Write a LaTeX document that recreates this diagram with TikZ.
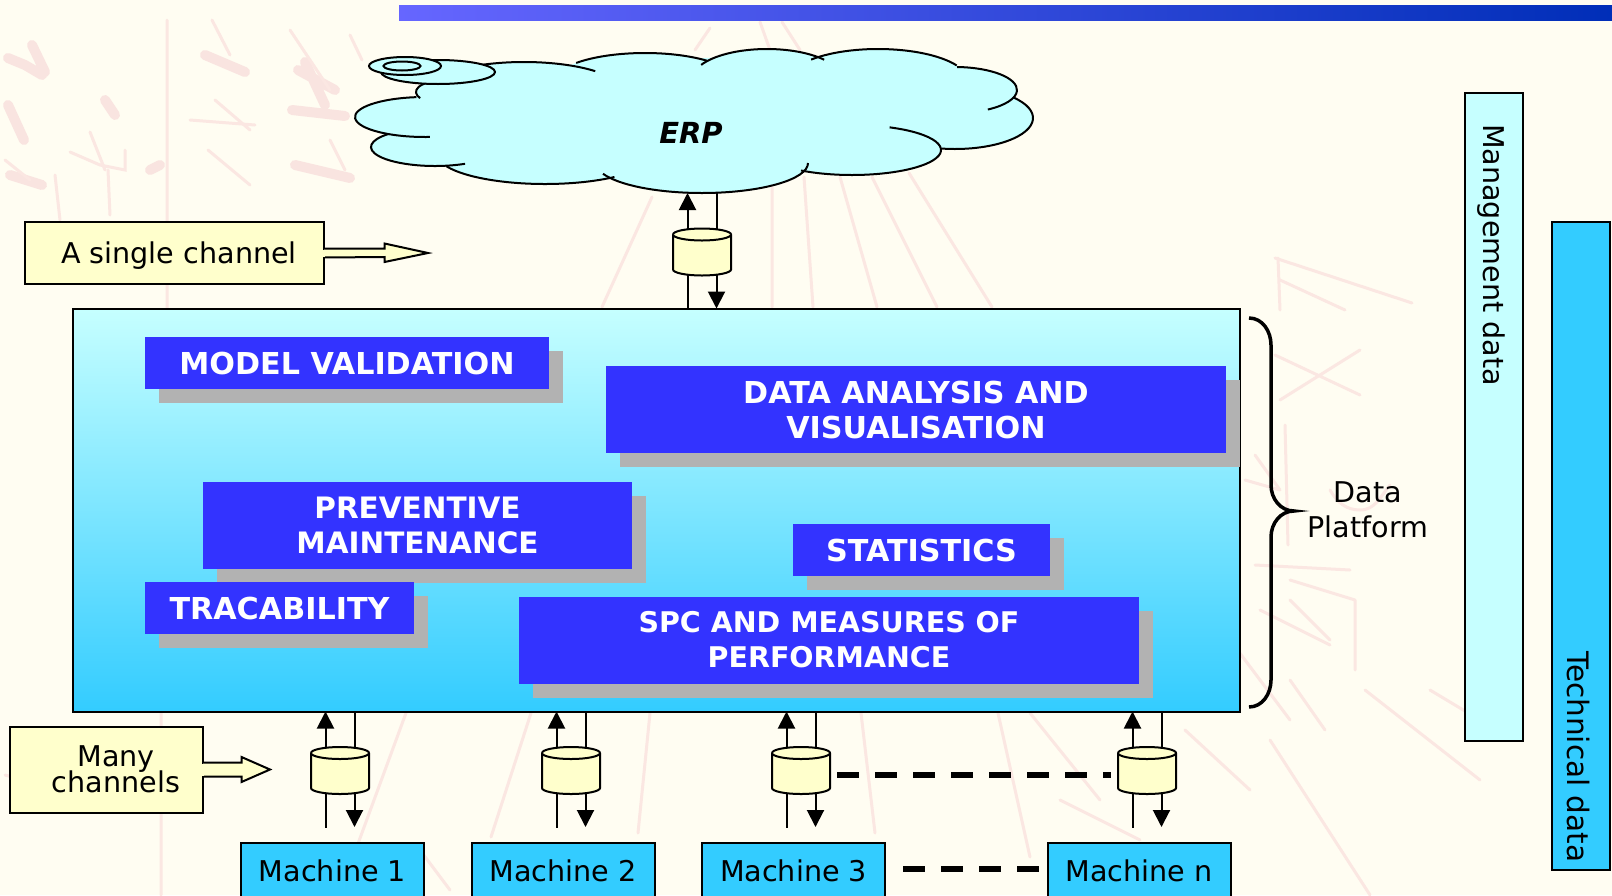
\documentclass[tikz,border=0pt]{standalone}
\usepackage{fontspec}
\setmainfont{DejaVu Sans}
\usetikzlibrary{arrows.meta,shadows}
\definecolor{paper}{HTML}{FFFDF2}
\definecolor{sketchink}{HTML}{FBE7E2}
\definecolor{sketchblot}{HTML}{F9E4E0}
\definecolor{paleblue}{HTML}{C6FFFF}
\definecolor{skyblue}{HTML}{33CCFF}
\definecolor{royal}{HTML}{3333FF}
\definecolor{cream}{HTML}{FFFFCC}
\definecolor{shadowgray}{HTML}{B2B2B2}
\newcommand{\lobelist}{
	524/92/99/30/115/44,
	645/83/92.6/30/138/48,
	767/79/74.6/30/152/40,
	878/81/90/32/138/29,
	955/90/62/23/88/-58,
	955/118/78/31/42/-100,
	852/150/89/25/65/-125,
	702/163/106/30/0/-159,
	545/154/108/30/-50/-156,
	435/147/64/19/-62/-223,
	425/117/70/20/-86/-263,
	440/92/24/11/-146/-240
}
\newcommand{\channelcan}[1]{
	\draw[canline] ([yshift=-6pt]#1.north west) -- ([yshift=6pt]#1.south west)
		arc[x radius=29pt, y radius=6pt, start angle=180, end angle=360]
		-- ([yshift=-6pt]#1.north east) arc[x radius=29pt, y radius=6pt, start angle=0, end angle=180];
	\draw[canline] ([yshift=-6pt]#1.north west) arc[x radius=29pt, y radius=6pt, start angle=180, end angle=360];
}
\tikzset{
	every node/.style={font=\fontsize{28.6}{35}\selectfont, inner sep=0pt, outer sep=0pt},
	sketch/.style={draw=sketchink, line width=3pt, line cap=round},
	blot/.style={draw=sketchblot, line width=10pt, line cap=round, line join=round},
	taskfont/.style={font=\fontsize{#1}{35}\selectfont\bfseries},
	taskbox/.style={fill=royal, text=white, align=center, taskfont=30.2,
		general shadow={shadow xshift=14pt, shadow yshift=-14pt, fill=shadowgray}},
	calloutbox/.style={draw=black, fill=cream, line width=2pt},
	flowline/.style={line width=2pt},
	flowarrow/.style={flowline, -{Triangle[length=17pt,width=17pt]}},
	canbody/.style={minimum width=58pt, minimum height=47pt},
	canline/.style={draw=black, fill=cream, line width=2pt},
	machinebox/.style={draw=black, fill=skyblue, line width=2pt, minimum width=183pt, minimum height=56pt},
	databar/.style={draw=black, line width=2pt, minimum width=58pt},
	gap/.style={line width=5.3pt, dash pattern=on 22pt off 16pt}
}
\begin{document}
\begin{tikzpicture}[x=1pt, y=-1pt]
	\path[use as bounding box, clip] (0,0) rectangle (1612,895);
	\fill[paper] (0,0) rectangle (1612,895);
	%sketch behind the diagram
	\draw[blot] (8,58) -- (25,65) -- (42,75) (32,45) -- (45,72) (8,105) -- (24,140)
		(105,100) -- (115,115) (205,55) -- (245,72) (298,70) -- (335,90) (292,110) -- (345,116) (295,165) -- (350,178)
		(10,175) -- (42,185) (150,170) -- (160,165) (305,62) -- (325,105);
	\draw[sketch] (70,152) -- (100,165) -- (125,170) -- (125,150) (90,132) -- (105,170) (108,170) -- (110,215)
		(55,175) -- (60,220) (212,20) -- (230,55) (190,120) -- (255,125) (215,100) -- (250,130) (208,150) -- (250,185)
		(290,30) -- (330,90) (350,35) -- (362,60) (330,140) -- (345,170) (5,160) -- (30,180);
	\draw[sketch] (167,20) -- (167,310) (161,713) -- (161,895)
		(652,197) -- (602,307) (772,187) -- (772,307) (804,177) -- (813,307) (840,177) -- (877,307)
		(872,177) -- (937,307) (909,173) -- (992,307) (710,28) -- (695,50) (760,22) -- (770,50) (782,22) -- (800,50)
		(406,713) -- (352,860) (531,713) -- (491,837) (650,713) -- (638,833) (861,713) -- (875,833)
		(998,713) -- (1030,857) (1030,713) -- (1100,800) (1185,730) -- (1250,790) (1060,800) -- (1140,840)
		(1275,258) -- (1412,303) (1278,258) -- (1280,310) (1280,280) -- (1345,310) (1275,355) -- (1360,395)
		(1280,400) -- (1360,350) (1285,425) -- (1288,545) (1255,455) -- (1280,490) (1245,480) -- (1280,490)
		(1255,565) -- (1350,570) (1290,580) -- (1355,600) (1355,600) -- (1355,670) (1290,600) -- (1330,640)
		(1260,610) -- (1330,645) (1230,640) -- (1290,720) (1290,680) -- (1325,730) (1270,740) -- (1370,895)
		(1365,690) -- (1480,780) (1430,690) -- (1480,720) (420,850) -- (450,890) (5,775) -- (60,790);
	\draw[sketch] (1330,490) to[out=-60,in=180] (1360,510) to[out=0,in=-130] (1390,485);
	%top bar
	\shade[left color=blue!60!white, middle color=blue!70!white!90!black, right color=blue!80!green!90!black] (399,5) rectangle (1612,20);
	%cloud
	\fill[paleblue] (425,100) -- (524,70) -- (643,60) -- (767,56) -- (880,56) -- (957,72) -- (1008,104) -- (940,145)
		-- (702,186) -- (445,160) -- (392,130) -- cycle;
	\foreach \cx/\cy/\rx/\ry/\sa/\ea in \lobelist
		\fill[paleblue] (\cx,\cy) ellipse[x radius=\rx, y radius=\ry];
	\foreach \cx/\cy/\rx/\ry/\sa/\ea in \lobelist
		\draw[line width=2pt] ({\cx+\rx*cos(\sa)},{\cy-\ry*sin(\sa)}) arc[x radius=\rx pt, y radius=\ry pt, start angle=\sa, end angle=\ea];
	\draw[fill=paleblue, line width=2pt] (438,72) ellipse (57 and 12);
	\draw[fill=paleblue, line width=2pt] (405,66) ellipse (36 and 9);
	\draw[line width=2pt] (402,66) ellipse (18.5 and 4.5);
	\node[font=\fontsize{29}{35}\selectfont\bfseries\itshape] (erp) at (691,133) {ERP};
	\coordinate (cloudbase) at (702,193);
	%platform
	\node[draw=black, line width=2pt, top color=paleblue, bottom color=skyblue, minimum width=1167pt, minimum height=403pt] (platform) at (656.5,510) {};
	\node[taskbox, minimum width=404pt, minimum height=52pt] (validation) at (347,363) {MODEL VALIDATION};
	\node[taskbox, minimum width=620pt, minimum height=87pt] (analysis) at (916,409.5) {DATA ANALYSIS AND\\VISUALISATION};
	\node[taskbox, taskfont=29.5, minimum width=429pt, minimum height=87pt] (maintenance) at (417.5,525) {PREVENTIVE\\MAINTENANCE};
	\node[taskbox, minimum width=269pt, minimum height=52pt] (tracability) at (279.5,608) {TRACABILITY};
	\node[taskbox, minimum width=257pt, minimum height=52pt] (statistics) at (921.5,550) {STATISTICS};
	\node[taskbox, taskfont=28.5, minimum width=620pt, minimum height=87pt] (spc) at (829,640) {SPC AND MEASURES OF\\PERFORMANCE};
	%callouts
	\node[calloutbox, minimum width=299pt, minimum height=62pt] (single) at (174.5,253) {};
	\draw[calloutbox] ([yshift=4.5pt]single.east) -- ++(60.5,0) -- ++(0,-5) -- (428,253) -- (384.5,262) -- ++(0,-5) -- ([yshift=-4.5pt]single.east);
	\draw[cream, line width=2.4pt] ([yshift=3.5pt]single.east) -- ([yshift=-3.5pt]single.east);
	\node (singletext) at (179,256) {A single channel};
	\node[calloutbox, minimum width=193pt, minimum height=86pt] (many) at (106.5,769.5) {};
	\draw[calloutbox] ([yshift=7pt]many.east) -- ++(38.5,0) -- ++(0,-5.5) -- (270,769.5) -- (241.5,782) -- ++(0,-5.5) -- ([yshift=-7pt]many.east);
	\draw[cream, line width=2.4pt] ([yshift=6pt]many.east) -- ([yshift=-6pt]many.east);
	\node[align=center] (manytext) at (116,769) {Many\\[-9pt]channels};
	%channels
	\node[canbody] (can0) at (702,252) {};
	\foreach \n/\x in {1/340,2/571,3/801,n/1147}
		\node[canbody] (can\n) at (\x,770.5) {};
	\draw[flowarrow] ([xshift=-14.5pt,yshift=-1pt]can0.north) -- ([xshift=-14.5pt]can0.north |- cloudbase);
	\draw[flowline] ([xshift=14.5pt,yshift=-1pt]can0.north) -- ([xshift=14.5pt]can0.north |- cloudbase);
	\draw[flowline] ([xshift=-14.5pt,yshift=1pt]can0.south) -- ([xshift=-14.5pt]can0.south |- platform.north);
	\draw[flowarrow] ([xshift=14.5pt,yshift=1pt]can0.south) -- ([xshift=14.5pt]can0.south |- platform.north);
	\channelcan{can0}
	%machines
	\foreach \n/\x in {1/332.5,2/563,3/793.5,n/1139}{
		\node[machinebox] (machine\n) at (\x,871) {Machine \n};
		\draw[flowarrow] ([xshift=-14.5pt,yshift=-1pt]can\n.north) -- ([xshift=-14.5pt]can\n.north |- platform.south);
		\draw[flowline] ([xshift=14.5pt,yshift=-1pt]can\n.north) -- ([xshift=14.5pt]can\n.north |- platform.south);
		\draw[flowline] ([xshift=-14.5pt,yshift=1pt]can\n.south) -- ++(0,35);
		\draw[flowarrow] ([xshift=14.5pt,yshift=1pt]can\n.south) -- ++(0,34);
		\channelcan{can\n}
	}
	\draw[gap, shorten <=7pt, shorten >=7pt] ([yshift=-4.5pt]can3.east) -- ([yshift=-4.5pt]cann.west);
	\draw[gap, shorten <=18pt, shorten >=7.5pt] ([yshift=2pt]machine3.east) -- ([yshift=2pt]machinen.west);
	%data platform brace
	\coordinate (bracetop) at (1249,318);
	\coordinate (bracetip) at (1294,511);
	\coordinate (bracebottom) at (1249,707);
	\draw[line width=3.5pt] (bracetop) to[out=0,in=90] (1271,345) -- (1271,485) to[out=-90,in=180] (bracetip)
		to[out=180,in=90] (1271,537) -- (1271,680) to[out=-90,in=0] (bracebottom);
	\node[align=center] (platformtext) at (1368,510) {Data\\Platform};
	%bars
	\node[databar, fill=paleblue, minimum height=648pt] (mgmtbar) at (1494,416.5) {};
	\node[rotate=-90, anchor=west] (mgmttext) at (1491,124) {Management data};
	\node[databar, fill=skyblue, minimum height=648pt] (techbar) at (1580.5,546) {};
	\node[rotate=-90, anchor=west, font=\fontsize{29.5}{35}\selectfont] (techtext) at (1578,651) {Technical data};
\end{tikzpicture}
\end{document}
